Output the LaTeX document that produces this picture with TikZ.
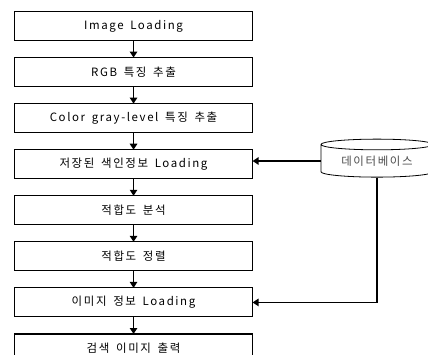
\documentclass[tikz,border=0pt]{standalone}
\usepackage{fontspec}
\setmainfont{Noto Sans CJK KR}[LetterSpace=14,WordSpace=1.6]
\usepackage{tikz}
\usetikzlibrary{arrows.meta}
\usetikzlibrary{calc}
\usetikzlibrary{matrix}
\usetikzlibrary{shapes.geometric}
\tikzstyle{stage}=[draw,line width=.8pt,minimum width=178.5pt,minimum height=21.75pt,inner sep=0pt,outer sep=0pt,font=\fontsize{8.6}{9}\selectfont]
\tikzstyle{flow}=[line width=1.4pt,-{Triangle[length=4.5pt,width=5.5pt]}]
\tikzstyle{store}=[draw,line width=.6pt,cylinder,shape border rotate=90,shape aspect=.15,minimum width=84pt,minimum height=28.5pt,inner sep=0pt,font=\fontsize{8.6}{9}\selectfont\color{black!70}]

\begin{document}
\begin{tikzpicture}
	\useasboundingbox (0,0) rectangle (321pt,-265.5pt);
	\matrix (m) [matrix of nodes,nodes=stage,row sep=12pt,inner sep=0pt,outer sep=0pt,anchor=north west] at (10.5pt,-8.25pt) {
	  Image Loading \\ RGB 특징 추출 \\ Color gray-level 특징 추출 \\ 저장된 색인정보 Loading \\
	  적합도 분석 \\ 적합도 정렬 \\ 이미지 정보 Loading \\ 검색 이미지 출력 \\
	};
	\node[store] (db) at (282.75pt,-120.75pt) {데이터베이스};
	\draw[flow] (m-1-1) -- (m-2-1);
	\draw[flow] (m-2-1) -- (m-3-1);
	\draw[flow] (m-3-1) -- (m-4-1);
	\draw[flow] (m-4-1) -- (m-5-1);
	\draw[flow] (m-5-1) -- (m-6-1);
	\draw[flow] (m-6-1) -- (m-7-1);
	\draw[flow] (m-7-1) -- (m-8-1);
	\draw[flow] (db.west) -- (db.west -| m-4-1.east);
	\draw[flow] (db.south) |- (m-7-1.east);
\end{tikzpicture}
\end{document}
